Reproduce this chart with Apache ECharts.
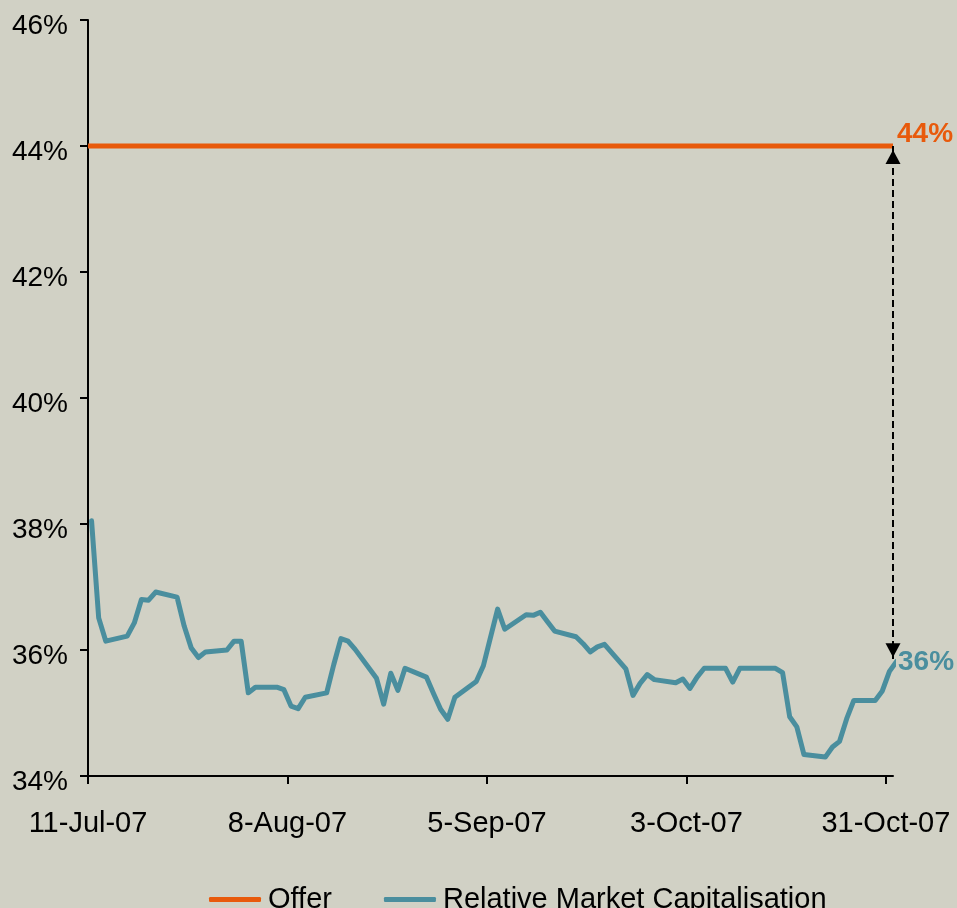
<!DOCTYPE html>
<html>
<head>
<meta charset="utf-8">
<title>Relative Market Capitalisation</title>
<script src="https://cdn.jsdelivr.net/npm/echarts@6/dist/echarts.min.js"></script>
<style>
  html, body { margin: 0; padding: 0; background: #d1d1c5; }
  #chart { width: 957px; height: 908px; }
</style>
</head>
<body>
<div id="chart"></div>
<script>
// trading days and relative market capitalisation (%)
const dates = [
  '2007-07-11', '2007-07-12', '2007-07-13', '2007-07-16', '2007-07-17', '2007-07-18', '2007-07-19', '2007-07-20',
  '2007-07-23', '2007-07-24', '2007-07-25', '2007-07-26', '2007-07-27', '2007-07-30', '2007-07-31', '2007-08-01',
  '2007-08-02', '2007-08-03', '2007-08-06', '2007-08-07', '2007-08-08', '2007-08-09', '2007-08-10', '2007-08-13',
  '2007-08-14', '2007-08-15', '2007-08-16', '2007-08-17', '2007-08-20', '2007-08-21', '2007-08-22', '2007-08-23',
  '2007-08-24', '2007-08-27', '2007-08-28', '2007-08-29', '2007-08-30', '2007-08-31', '2007-09-03', '2007-09-04',
  '2007-09-05', '2007-09-06', '2007-09-07', '2007-09-10', '2007-09-11', '2007-09-12', '2007-09-13', '2007-09-14',
  '2007-09-17', '2007-09-18', '2007-09-19', '2007-09-20', '2007-09-21', '2007-09-24', '2007-09-25', '2007-09-26',
  '2007-09-27', '2007-09-28', '2007-10-01', '2007-10-02', '2007-10-03', '2007-10-04', '2007-10-05', '2007-10-08',
  '2007-10-09', '2007-10-10', '2007-10-11', '2007-10-12', '2007-10-15', '2007-10-16', '2007-10-17', '2007-10-18',
  '2007-10-19', '2007-10-22', '2007-10-23', '2007-10-24', '2007-10-25', '2007-10-26', '2007-10-29', '2007-10-30',
  '2007-10-31', '2007-11-01'
];
const relCap = [
  38.05, 36.51, 36.14, 36.22, 36.43, 36.80, 36.79, 36.92,
  36.84, 36.38, 36.03, 35.88, 35.97, 36.00, 36.14, 36.14,
  35.32, 35.41, 35.41, 35.37, 35.11, 35.07, 35.25, 35.32,
  35.77, 36.18, 36.14, 36.01, 35.55, 35.14, 35.63, 35.36,
  35.71, 35.57, 35.31, 35.06, 34.90, 35.25, 35.50, 35.75,
  36.20, 36.65, 36.33, 36.56, 36.55, 36.60, 36.45, 36.30,
  36.21, 36.10, 35.97, 36.05, 36.09, 35.70, 35.28, 35.47,
  35.61, 35.53, 35.48, 35.54, 35.39, 35.57, 35.71, 35.71,
  35.49, 35.71, 35.71, 35.71, 35.71, 35.64, 34.94, 34.78,
  34.34, 34.30, 34.46, 34.55, 34.91, 35.20, 35.20, 35.35,
  35.66, 35.82
];
// offer level (%)
const offerDates = ['2007-07-11', '2007-11-01'];
const offerValues = [44, 44];

// axis ticks
const xTickDates = ['2007-07-11', '2007-08-08', '2007-09-05', '2007-10-03', '2007-10-31'];
const xTickLabels = ['11-Jul-07', '8-Aug-07', '5-Sep-07', '3-Oct-07', '31-Oct-07'];
const yMin = 34, yMax = 46, yStep = 2;

const FONT = 'Liberation Sans, Arial, sans-serif';
const TEAL = '#4a8e9e';
const ORANGE = '#e85a0c';

const t0 = Date.UTC(2007, 6, 11);
function dayOf(s) {
  const p = s.split('-');
  return (Date.UTC(+p[0], +p[1] - 1, +p[2]) - t0) / 86400000;
}
// points sit in the middle of their day slot (Excel date axis, between tick marks)
const capData = dates.map((d, i) => [dayOf(d) + 0.5, relCap[i]]);
const offerData = offerDates.map((d, i) => [dayOf(d), offerValues[i]]);
const tickDays = xTickDates.map(dayOf);
const xMax = dayOf(dates[dates.length - 1]);
const lastCap = relCap[relCap.length - 1];
const lastOffer = offerValues[offerValues.length - 1];

const myChart = echarts.init(document.getElementById('chart'));
const option = {
  backgroundColor: '#d1d1c5',
  animation: false,
  textStyle: { fontFamily: FONT },
  grid: { left: 88, right: 64, top: 20, bottom: 132 },
  legend: {
    left: 209,
    top: 885,
    padding: 0,
    itemWidth: 52,
    itemHeight: 5,
    itemGap: 52,
    textStyle: { fontSize: 29, color: '#000', fontFamily: FONT, padding: [0, 0, 0, 2] },
    data: [
      { name: 'Offer', icon: 'roundRect' },
      { name: 'Relative Market Capitalisation', icon: 'roundRect' }
    ]
  },
  xAxis: {
    type: 'value',
    min: 0,
    max: xMax,
    axisLine: { show: true, lineStyle: { color: '#000', width: 2 } },
    axisTick: { show: true, length: 8, lineStyle: { color: '#000', width: 2 }, customValues: tickDays },
    axisLabel: {
      color: '#000',
      fontSize: 29,
      margin: 33,
      customValues: tickDays,
      formatter: v => xTickLabels[tickDays.indexOf(v)] || ''
    },
    splitLine: { show: false }
  },
  yAxis: {
    type: 'value',
    min: yMin,
    max: yMax,
    interval: yStep,
    axisLine: { show: true, lineStyle: { color: '#000', width: 2 } },
    axisTick: { show: true, length: 8, lineStyle: { color: '#000', width: 2 } },
    axisLabel: {
      color: '#000',
      fontSize: 28,
      margin: 20,
      verticalAlign: 'top',
      lineHeight: 12,
      formatter: v => v + '%'
    },
    splitLine: { show: false }
  },
  series: [
    {
      name: 'Offer',
      type: 'line',
      data: offerData,
      symbol: 'none',
      clip: false,
      lineStyle: { color: ORANGE, width: 5 },
      itemStyle: { color: ORANGE },
      endLabel: {
        show: true,
        formatter: p => Math.round(p.value[1]) + '%',
        color: ORANGE,
        fontSize: 28,
        fontWeight: 'bold',
        distance: 4,
        offset: [0, -12]
      }
    },
    {
      name: 'Relative Market Capitalisation',
      type: 'line',
      data: capData,
      symbol: 'none',
      clip: false,
      lineStyle: { color: TEAL, width: 5, cap: 'round', join: 'round' },
      itemStyle: { color: TEAL },
      endLabel: {
        show: true,
        formatter: p => Math.round(p.value[1]) + '%',
        color: TEAL,
        fontSize: 28,
        fontWeight: 'bold',
        distance: 2
      },
      // gap between the offer and the latest value
      markLine: {
        silent: true,
        symbol: ['triangle', 'triangle'],
        symbolSize: [15, 14],
        symbolOffset: [[0, 11], [0, 11]],
        label: { show: false },
        lineStyle: { color: '#000', width: 2, type: [7, 4] },
        data: [[
          { coord: [xMax, lastOffer] },
          { coord: [xMax, lastCap] }
        ]]
      }
    }
  ]
};
myChart.setOption(option);
</script>
</body>
</html>
